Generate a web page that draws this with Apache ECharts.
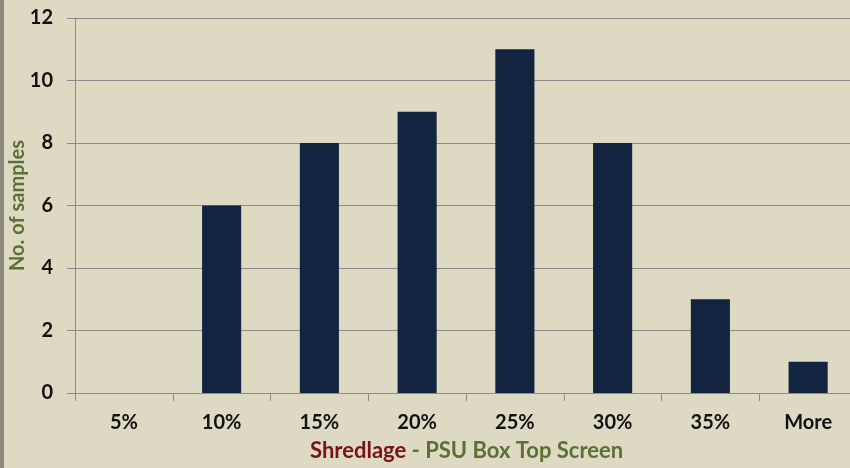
<!DOCTYPE html>
<html><head><meta charset="utf-8">
<script src="https://cdn.jsdelivr.net/npm/echarts@6/dist/echarts.min.js"></script>
<style>html,body{margin:0;padding:0;background:#DED9C3;}#c{width:850px;height:468px;}</style>
</head><body><div id="c"></div>
<script>
const categories = ['5%','10%','15%','20%','25%','30%','35%','More'];
const counts = [0,6,8,9,11,8,3,1];
const yTicks = [0,2,4,6,8,10,12];
const FONT = 'Lato, "Open Sans", sans-serif';
const chart = echarts.init(document.getElementById('c'), null, {renderer:'canvas'});
chart.setOption({
  backgroundColor:'#DED9C3',
  animation:false,
  graphic:[
    {type:'rect', shape:{x:0,y:0,width:4,height:468}, style:{fill:'#8E8A7E'}},
    {type:'text', left:310, top:440, style:{
      text:'{a|Shredlage}{b| - PSU Box Top Screen}',
      rich:{a:{fill:'#7A1414',fontSize:22,fontWeight:'bold',fontFamily:FONT},
            b:{fill:'#5B7032',fontSize:22,fontWeight:'bold',fontFamily:FONT}}
    }}
  ],
  grid:{left:75,right:-7,top:18,bottom:75,containLabel:false,outerBoundsMode:'none'},
  xAxis:{type:'category',data:categories,
    axisLine:{lineStyle:{color:'#8C8C8C',width:1}},
    axisTick:{show:true,length:8,lineStyle:{color:'#8C8C8C'}},
    axisLabel:{color:'#111',fontSize:20,fontWeight:'bold',fontFamily:FONT,margin:20}
  },
  yAxis:{type:'value',min:yTicks[0],max:yTicks[yTicks.length-1],interval:2,
    name:'No. of samples',nameLocation:'middle',nameGap:47,nameRotate:90,nameMoveOverlap:false,
    nameTextStyle:{color:'#5B7032',fontSize:20,fontWeight:'bold',fontFamily:FONT},
    axisLine:{show:true,lineStyle:{color:'#8C8C8C'}},
    axisTick:{show:true,length:8,lineStyle:{color:'#8C8C8C'}},
    axisLabel:{color:'#111',fontSize:20,fontWeight:'bold',fontFamily:FONT,margin:22},
    splitLine:{lineStyle:{color:'#8C8C8C',width:1}}
  },
  series:[{type:'bar',data:counts,barWidth:'40%',itemStyle:{color:'#12243F'}}]
});
</script></body></html>
